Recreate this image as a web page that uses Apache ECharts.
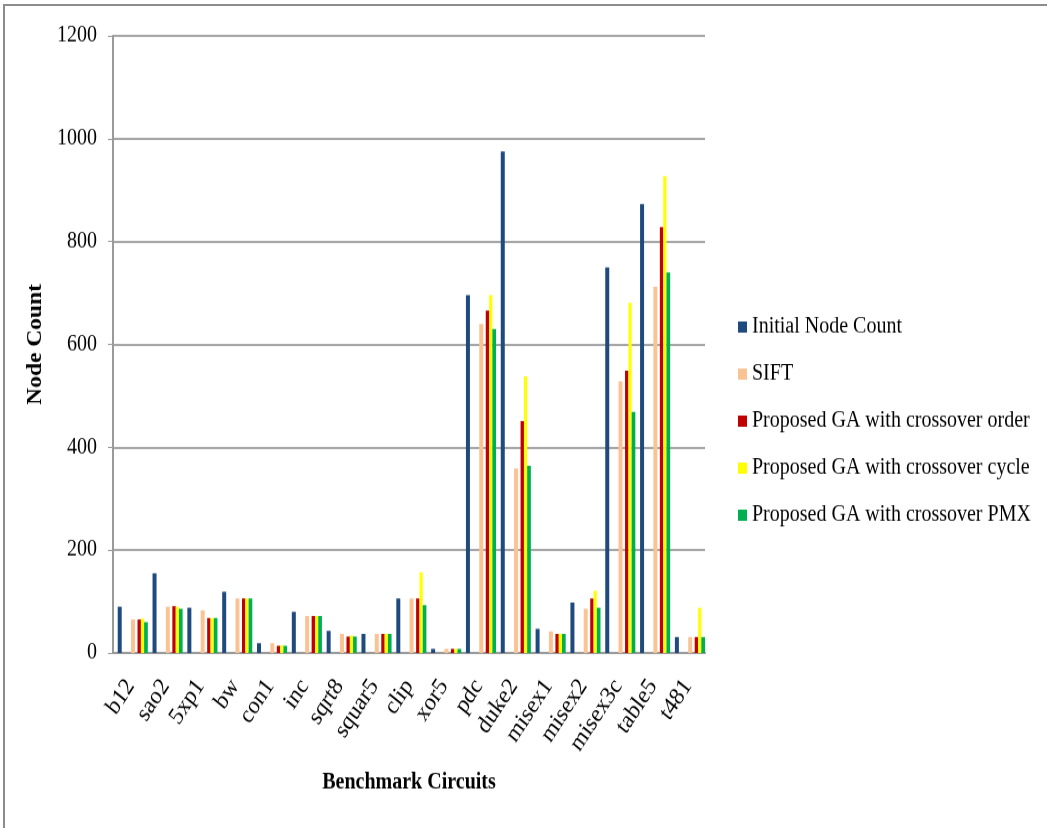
<!DOCTYPE html>
<html>
<head>
<meta charset="utf-8">
<script src="https://cdn.jsdelivr.net/npm/echarts@6/dist/echarts.min.js"></script>
<style>
  html, body { margin: 0; padding: 0; background: #ffffff; overflow: hidden; }
  #frame { position: absolute; left: 3px; top: 4px; width: 1060px; height: 840px;
           border-top: 2px solid #8c8c8c; border-left: 2px solid #8c8c8c; }
  /* the chart is drawn slightly squat and stretched vertically, giving tall narrow type */
  #chart { position: absolute; left: 0; top: 0; width: 1047px; height: 739px;
           transform: scaleY(1.12); transform-origin: 0 0; }
</style>
</head>
<body>
<div id="frame"></div>
<div id="chart"></div>
<script>
// Benchmark circuits on the category axis
const circuits = ['b12', 'sao2', '5xp1', 'bw', 'con1', 'inc', 'sqrt8', 'squar5', 'clip',
                  'xor5', 'pdc', 'duke2', 'misex1', 'misex2', 'misex3c', 'table5', 't481'];

// Node counts per method
const initialNodeCount = [90, 155, 88, 119, 19, 80, 43, 37, 106, 8, 696, 975, 47, 98, 750, 873, 31];
const sift             = [65, 90, 83, 106, 19, 72, 37, 37, 106, 8, 640, 359, 42, 86, 528, 712, 31];
const gaOrder          = [65, 91, 68, 106, 14, 72, 32, 37, 106, 8, 666, 451, 37, 106, 549, 828, 31];
const gaCycle          = [67, 90, 68, 106, 15, 72, 34, 37, 157, 8, 696, 538, 37, 121, 681, 927, 88];
const gaPMX            = [60, 86, 68, 106, 14, 72, 32, 37, 93, 8, 630, 364, 37, 88, 469, 740, 31];

// Value axis ticks
const yTicks = [0, 200, 400, 600, 800, 1000, 1200];

const seriesNames = ['Initial Node Count', 'SIFT', 'Proposed GA with crossover order',
                     'Proposed GA with crossover cycle', 'Proposed GA with crossover PMX'];
const colors = ['#1f4a7e', '#fac394', '#c00000', '#ffff00', '#00b050'];

const serif = '"Liberation Serif", "Times New Roman", serif';

// Empty bar series that only reserve horizontal room inside each category
function spacer(id, width) {
  return { type: 'bar', id: id, name: id, data: [], barWidth: width, silent: true,
           itemStyle: { color: 'transparent' } };
}
function barSeries(idx, values, width) {
  return { type: 'bar', name: seriesNames[idx], data: values, barWidth: width,
           itemStyle: { color: colors[idx] } };
}

const chart = echarts.init(document.getElementById('chart'), null, { renderer: 'canvas' });
chart.setOption({
  animation: false,
  backgroundColor: 'transparent',
  grid: { left: 113, right: 342, top: 32, bottom: 156, containLabel: false },
  legend: {
    data: seriesNames,
    orient: 'vertical',
    left: 733,
    top: 277,
    itemWidth: 9,
    itemHeight: 10,
    itemGap: 22,
    icon: 'rect',
    textStyle: { fontFamily: serif, fontSize: 20, color: '#000', lineHeight: 20 }
  },
  xAxis: {
    type: 'category',
    data: circuits,
    name: 'Benchmark Circuits',
    nameLocation: 'middle',
    nameGap: 106,
    nameTextStyle: { fontFamily: serif, fontSize: 20, fontWeight: 'bold', color: '#000' },
    axisLine: { lineStyle: { color: '#9a9a9a', width: 2 } },
    axisTick: { show: false },
    axisLabel: { rotate: 54, margin: 26, fontFamily: serif, fontSize: 22, color: '#000', interval: 0 }
  },
  yAxis: {
    type: 'value',
    min: yTicks[0],
    max: yTicks[yTicks.length - 1],
    interval: yTicks[1] - yTicks[0],
    name: 'Node Count',
    nameLocation: 'middle',
    nameRotate: 90,
    nameGap: 43,
    nameTextStyle: { fontFamily: serif, fontSize: 21, fontWeight: 'bold', color: '#000' },
    axisLine: { show: true, lineStyle: { color: '#9a9a9a', width: 2 } },
    axisTick: { show: true, length: 5, lineStyle: { color: '#9a9a9a' } },
    axisLabel: { margin: 16, fontFamily: serif, fontSize: 20, color: '#000',
                 formatter: function (v) { return String(v); } },
    splitLine: { lineStyle: { color: '#a6a6a6', width: 2 } }
  },
  series: [
    spacer('pad0', 4.7),
    barSeries(0, initialNodeCount, 4),
    spacer('pad1', 9.3),
    barSeries(1, sift, 4),
    spacer('pad2', 2.5),
    barSeries(2, gaOrder, 3.4),
    barSeries(3, gaCycle, 3.2),
    barSeries(4, gaPMX, 3.7)
  ],
  barGap: 0
});
</script>
</body>
</html>
